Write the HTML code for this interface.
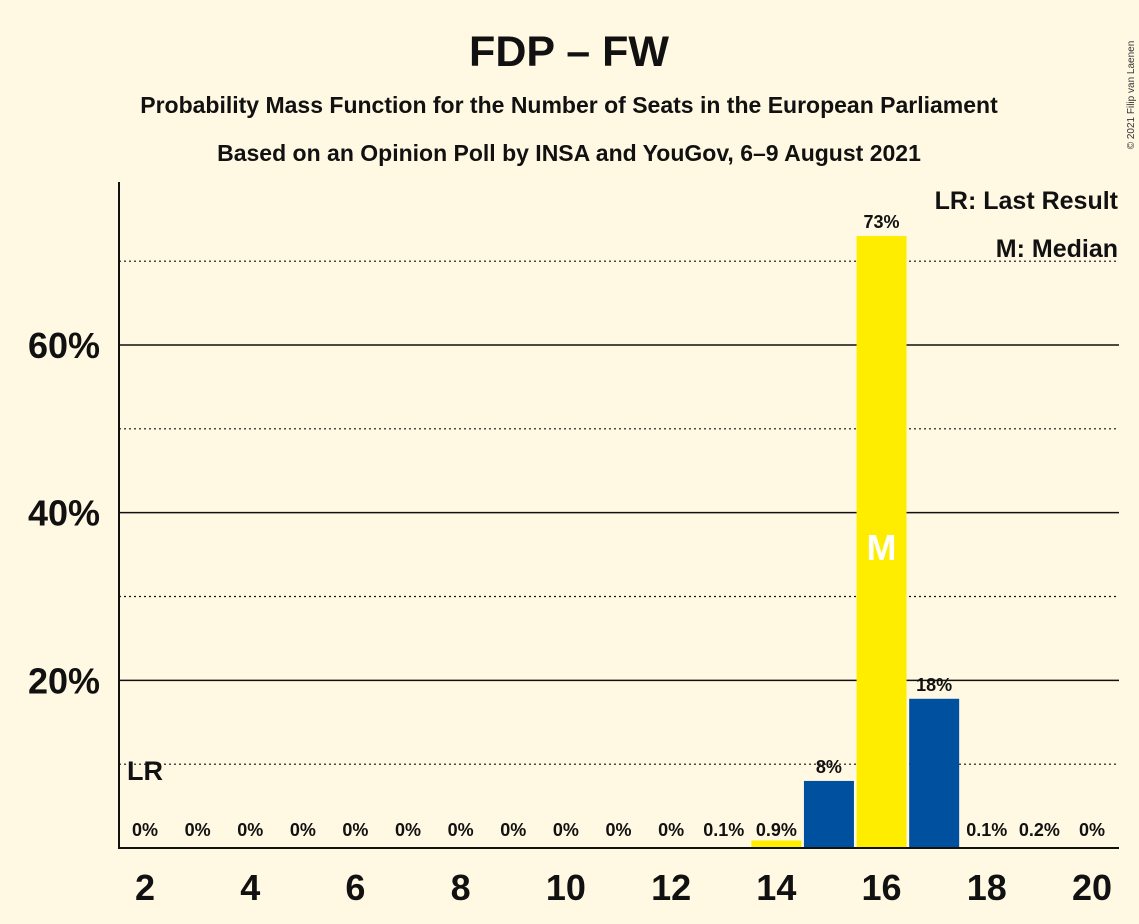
<!DOCTYPE html>
<html><head><meta charset="utf-8"><style>
body{margin:0;background:#fff8e2;}
svg{display:block;font-family:"Liberation Sans",sans-serif;font-weight:bold;}
</style></head><body>
<svg id="chart" width="1139" height="924" viewBox="0 0 1139 924">
<rect width="1139" height="924" fill="#fff8e2"/>
<text x="569" y="66" text-anchor="middle" font-size="43" fill="#111">FDP – FW</text>
<text x="569" y="113" text-anchor="middle" font-size="23" fill="#111">Probability Mass Function for the Number of Seats in the European Parliament</text>
<text x="569" y="161" text-anchor="middle" font-size="23" fill="#111">Based on an Opinion Poll by INSA and YouGov, 6–9 August 2021</text>
<text transform="translate(1134,95) rotate(-90)" text-anchor="middle" font-size="10" font-weight="normal" fill="#333">© 2021 Filip van Laenen</text>
<g id="grid"></g>
<g id="bars"></g>
<g id="labels"></g>
<line x1="119" y1="182" x2="119" y2="849" stroke="#111" stroke-width="2"/>
<line x1="118" y1="848" x2="1119" y2="848" stroke="#111" stroke-width="2"/>
<text x="1118" y="209" text-anchor="end" font-size="25" fill="#111">LR: Last Result</text>
<text x="1118" y="257" text-anchor="end" font-size="25" fill="#111">M: Median</text>
</svg>
<script>
const seats=[2,3,4,5,6,7,8,9,10,11,12,13,14,15,16,17,18,19,20];
const probs=[0,0,0,0,0,0,0,0,0,0,0,0.1,0.9,8,73,17.8,0.1,0.2,0];
const valueLabels=["0%","0%","0%","0%","0%","0%","0%","0%","0%","0%","0%","0.1%","0.9%","8%","73%","18%","0.1%","0.2%","0%"];
const yTicks=[20,40,60];
const yDotted=[10,30,50,70];
const xTicks=[2,4,6,8,10,12,14,16,18,20];
const median=16;
const lastResult=2;
const NS="http://www.w3.org/2000/svg";
const xS=s=>145+(s-2)*(1092-145)/18;
const yS=v=>848-v*(848-345)/60;
function mk(t,a,p){const e=document.createElementNS(NS,t);for(const k in a)e.setAttribute(k,a[k]);document.getElementById(p).appendChild(e);return e;}
yDotted.forEach(v=>{const l=mk('line',{x1:119,x2:1119,y1:yS(v),y2:yS(v),stroke:'#111','stroke-width':1.2,'stroke-dasharray':'2,3'},'grid');

});
yTicks.forEach(v=>{const l=mk('line',{x1:119,x2:1119,y1:yS(v),y2:yS(v),stroke:'#111','stroke-width':1.5},'grid');


const t=mk('text',{x:100,y:yS(v)+13,'text-anchor':'end','font-size':36,fill:'#111'},'labels');t.textContent=v+'%';

});
xTicks.forEach(s=>{const t=mk('text',{x:xS(s),y:900,'text-anchor':'middle','font-size':36,fill:'#111'},'labels');t.textContent=s;

});
seats.forEach((s,i)=>{const v=probs[i];const x=xS(s);
if(v>=0.5){const h=848-yS(v);const b=mk('rect',{x:x-25,y:yS(v),width:50,height:h,fill:(s===median||s%2===0&&s<median)?'#ffed00':'#0050a0'},'bars');

}
const ly=v>=5?yS(v)-8:836;
const t=mk('text',{x:x,y:ly,'text-anchor':'middle','font-size':18,fill:'#111'},'labels');t.textContent=valueLabels[i];

});
const m=mk('text',{x:xS(median),y:560,'text-anchor':'middle','font-size':36,fill:'#fff'},'labels');m.textContent='M';


const lr=mk('text',{x:xS(lastResult),y:780,'text-anchor':'middle','font-size':27,fill:'#111'},'labels');lr.textContent='LR';


</script>
</body></html>
